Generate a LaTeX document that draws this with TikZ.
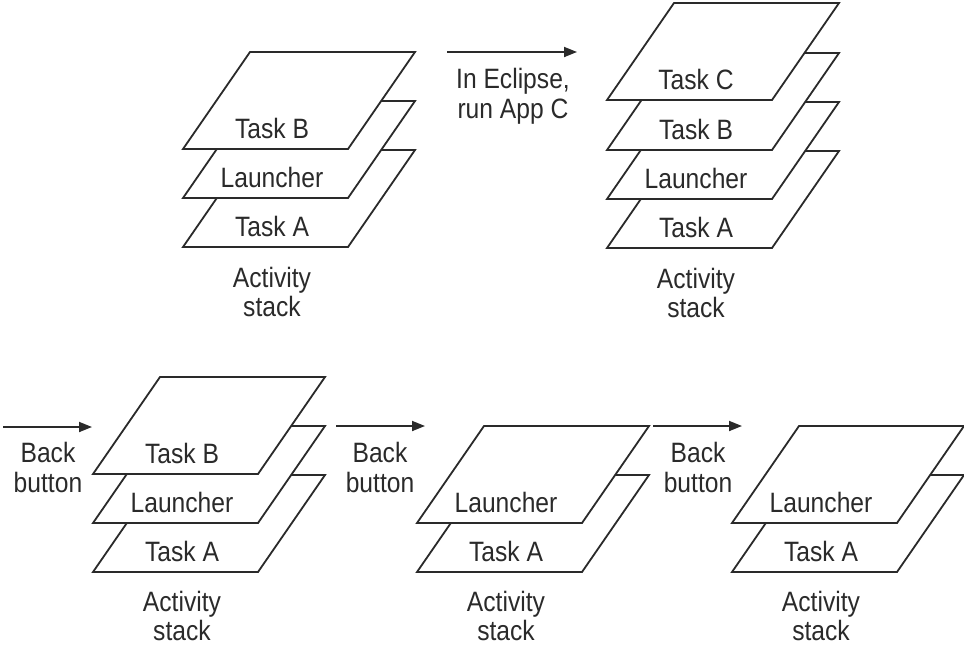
\documentclass[tikz,border=0pt]{standalone}
\usepackage{fontspec}
\setmainfont{Liberation Sans}[FakeStretch=0.88]
\usetikzlibrary{arrows.meta}
\definecolor{ink}{HTML}{2A2A2A}
\tikzset{
  plate/.style={draw=ink, line width=1.8pt, fill=white, line join=miter},
  lbl/.style={text=ink, font=\fontsize{28}{30}\selectfont, inner sep=0pt, anchor=base},
  caption/.style={text=ink, font=\fontsize{28}{29.5}\selectfont, inner sep=0pt, align=center, anchor=base},
  flow/.style={draw=ink, line width=1.8pt, -{Triangle[length=13pt,width=10pt]}},
}
\newcommand\myplate[4]{%
  \filldraw[plate] (#1,#2) -- ++(165,0) -- ++(67,-97) -- ++(-165,0) -- cycle;
  \node[lbl] (#3) at (#1+89,#2-11) {#4};
}
\begin{document}
\begin{tikzpicture}[x=1pt,y=-1pt]
\useasboundingbox (0,0) rectangle (964,646);
% stack 1
\myplate{183}{247}{s1a}{Task A}
\myplate{183}{198}{s1l}{Launcher}
\myplate{183}{149}{s1b}{Task B}
\node[caption] (s1c) at (272,316.5) {Activity\\stack};
% arrow 1
\coordinate (a1s) at (447,52);
\coordinate (a1e) at (577,52);
\draw[flow] (a1s) -- (a1e);
\node[caption] (a1t) at (513,118) {In Eclipse,\\run App C};
% stack 2
\myplate{607}{248}{s2a}{Task A}
\myplate{607}{199}{s2l}{Launcher}
\myplate{607}{150}{s2b}{Task B}
\myplate{607}{100}{s2c}{Task C}
\node[caption] (s2t) at (696,317.5) {Activity\\stack};
% arrow 2
\coordinate (a2s) at (3,427);
\coordinate (a2e) at (92,427);
\draw[flow] (a2s) -- (a2e);
\node[caption] (a2t) at (48,492) {Back\\button};
% stack 3
\myplate{93}{572}{s3a}{Task A}
\myplate{93}{523}{s3l}{Launcher}
\myplate{93}{474}{s3b}{Task B}
\node[caption] (s3t) at (182,640.5) {Activity\\stack};
% arrow 3
\coordinate (a3s) at (336,426);
\coordinate (a3e) at (425,426);
\draw[flow] (a3s) -- (a3e);
\node[caption] (a3t) at (380,492) {Back\\button};
% stack 4
\myplate{417}{572}{s4a}{Task A}
\myplate{417}{523}{s4l}{Launcher}
\node[caption] (s4t) at (506,640.5) {Activity\\stack};
% arrow 4
\coordinate (a4s) at (653,426);
\coordinate (a4e) at (742,426);
\draw[flow] (a4s) -- (a4e);
\node[caption] (a4t) at (698,492) {Back\\button};
% stack 5
\myplate{732}{572}{s5a}{Task A}
\myplate{732}{523}{s5l}{Launcher}
\node[caption] (s5t) at (821,640.5) {Activity\\stack};
\end{tikzpicture}
\end{document}
